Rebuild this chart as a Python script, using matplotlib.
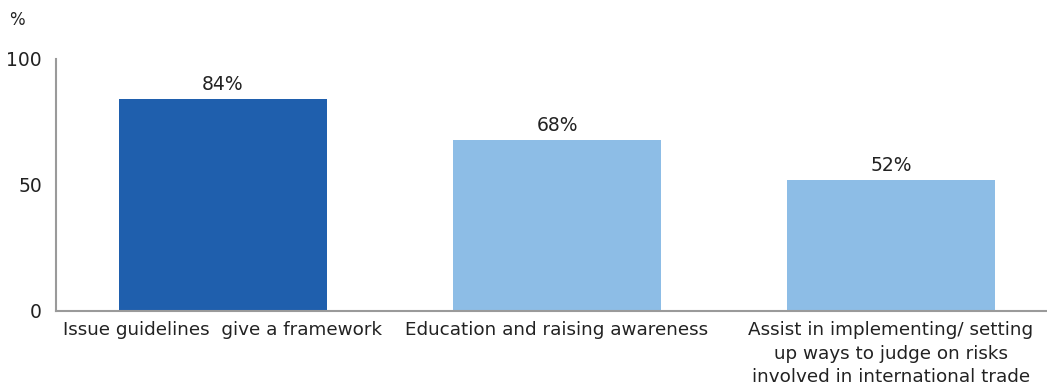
import matplotlib.pyplot as plt

categories = [
    "Issue guidelines  give a framework",
    "Education and raising awareness",
    "Assist in implementing/ setting\nup ways to judge on risks\ninvolved in international trade",
]
values = [84, 68, 52]
bar_colors = ["#1f5fad", "#8dbde6", "#8dbde6"]
yticks = [0, 50, 100]

plt.rcParams["font.family"] = ["DejaVu Sans"]

fig = plt.figure(figsize=(10.47, 3.9), dpi=100)
# axes runs off the right edge like in the original
ax = fig.add_axes([56 / 1047, 1 - 311 / 390, 1002 / 1047, 252 / 390])

x = list(range(len(categories)))
ax.bar(x, values, width=0.625, color=bar_colors)
for xi, v in zip(x, values):
    ax.text(xi, v + 2, f"{v}%", ha="center", va="bottom", fontsize=13.5, color="#222222")

ax.set_xlim(-0.5, 2.5)
ax.set_ylim(0, 100)
ax.set_yticks(yticks)
ax.set_xticks(x)
ax.set_xticklabels(categories, fontsize=13.2, color="#222222", linespacing=1.42)
ax.tick_params(axis="y", length=0, pad=10, labelsize=13.5, labelcolor="#222222")
ax.tick_params(axis="x", length=0, pad=7)

for s in ["top", "right"]:
    ax.spines[s].set_visible(False)
for s in ["left", "bottom"]:
    ax.spines[s].set_color("#9a9a9a")
    ax.spines[s].set_linewidth(1.5)

fig.text(9 / 1047, 1 - 20 / 390, "%", fontsize=12, color="#222222", va="center")

fig.savefig("out.png", dpi=100)
